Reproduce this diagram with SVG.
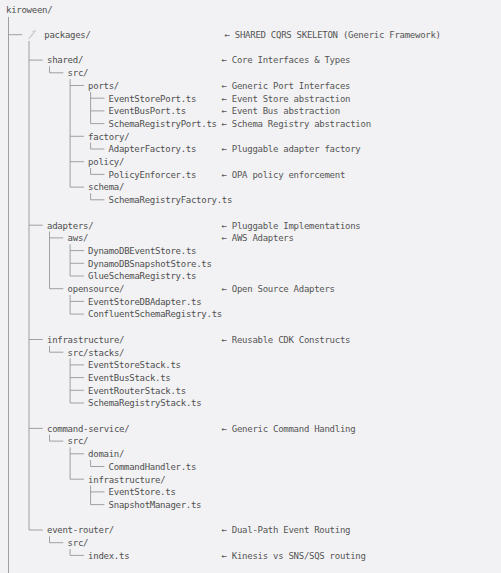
<svg xmlns="http://www.w3.org/2000/svg" width="501" height="573" viewBox="0 0 501 573">
<style>
  .bg { fill: #f2f2f4; }
  text { font-family: "DejaVu Sans Mono", "Liberation Mono", monospace; font-size: 9px; letter-spacing: -0.27px; fill: #4f4f4f; }
  .c { fill: #555555; }
  #connectors path { stroke: #969696; stroke-width: 0.9; fill: none; }
  .icon { stroke: #cfcfcf; stroke-width: 1.4; fill: none; stroke-linecap: round; }
</style>
<rect class="bg" x="0" y="0" width="501" height="573"/>

<g id="connectors">
  <path d="M8.5 17 V573"/>
  <path d="M29 41 V530"/>
  <path d="M49.5 66.4 V72.8 M49.5 231.5 V288.7 M49.5 345.8 V352.2 M49.5 434.7 V441.1 M49.5 536.3 V542.7"/>
  <path d="M70.1 79.1 V187.1 M70.1 244.2 V276 M70.1 295 V314.1 M70.1 358.5 V403 M70.1 447.4 V479.2 M70.1 549 V555.4"/>
  <path d="M90.6 91.8 V123.6 M90.6 142.6 V149 M90.6 168 V174.4 M90.6 193.4 V199.8 M90.6 460.1 V466.5 M90.6 485.5 V504.6"/>
  <path d="M8.5 34.7 H22.3"/>
  <path d="M29 60.1 H42.8 M29 225.2 H42.8 M29 339.5 H42.8 M29 428.4 H42.8 M29 530 H42.8"/>
  <path d="M49.5 72.8 H63.3 M49.5 237.9 H63.3 M49.5 288.7 H63.3 M49.5 352.2 H63.3 M49.5 441.1 H63.3 M49.5 542.7 H63.3"/>
  <path d="M70.1 85.5 H83.9 M70.1 136.3 H83.9 M70.1 161.7 H83.9 M70.1 187.1 H83.9 M70.1 250.6 H83.9 M70.1 263.3 H83.9 M70.1 276 H83.9 M70.1 301.4 H83.9 M70.1 314.1 H83.9 M70.1 364.9 H83.9 M70.1 377.6 H83.9 M70.1 390.3 H83.9 M70.1 403 H83.9 M70.1 453.8 H83.9 M70.1 479.2 H83.9 M70.1 555.4 H83.9"/>
  <path d="M90.6 98.2 H104.4 M90.6 110.9 H104.4 M90.6 123.6 H104.4 M90.6 149 H104.4 M90.6 174.4 H104.4 M90.6 199.8 H104.4 M90.6 466.5 H104.4 M90.6 491.9 H104.4 M90.6 504.6 H104.4"/>
</g>

<g id="root"><text x="6" y="12.6">kiroween/</text></g>

<g id="packages">
  <path class="icon" d="M29 38.5 L34 32.5 M33 31.5 L35.5 31"/>
  <text x="44.3" y="38">packages/</text>
  <text class="c" x="224.5" y="38">← SHARED CQRS SKELETON (Generic Framework)</text>
</g>

<g id="shared">
  <text x="47" y="63.4">shared/</text>
  <text class="c" x="221.5" y="63.4">← Core Interfaces &amp; Types</text>
</g>
<g id="shared-src"><text x="67.6" y="76.1">src/</text></g>
<g id="ports">
  <text x="88.1" y="88.8">ports/</text>
  <text class="c" x="221.5" y="88.8">← Generic Port Interfaces</text>
</g>
<g id="EventStorePort">
  <text x="108.6" y="101.5">EventStorePort.ts</text>
  <text class="c" x="221.5" y="101.5">← Event Store abstraction</text>
</g>
<g id="EventBusPort">
  <text x="108.6" y="114.2">EventBusPort.ts</text>
  <text class="c" x="221.5" y="114.2">← Event Bus abstraction</text>
</g>
<g id="SchemaRegistryPort">
  <text x="108.6" y="126.9">SchemaRegistryPort.ts</text>
  <text class="c" x="221.5" y="126.9">← Schema Registry abstraction</text>
</g>
<g id="factory"><text x="88.1" y="139.6">factory/</text></g>
<g id="AdapterFactory">
  <text x="108.6" y="152.3">AdapterFactory.ts</text>
  <text class="c" x="221.5" y="152.3">← Pluggable adapter factory</text>
</g>
<g id="policy"><text x="88.1" y="165">policy/</text></g>
<g id="PolicyEnforcer">
  <text x="108.6" y="177.7">PolicyEnforcer.ts</text>
  <text class="c" x="221.5" y="177.7">← OPA policy enforcement</text>
</g>
<g id="schema"><text x="88.1" y="190.4">schema/</text></g>
<g id="SchemaRegistryFactory"><text x="108.6" y="203.1">SchemaRegistryFactory.ts</text></g>

<g id="adapters">
  <text x="47" y="228.5">adapters/</text>
  <text class="c" x="221.5" y="228.5">← Pluggable Implementations</text>
</g>
<g id="aws">
  <text x="67.6" y="241.2">aws/</text>
  <text class="c" x="221.5" y="241.2">← AWS Adapters</text>
</g>
<g id="DynamoDBEventStore"><text x="88.1" y="253.9">DynamoDBEventStore.ts</text></g>
<g id="DynamoDBSnapshotStore"><text x="88.1" y="266.6">DynamoDBSnapshotStore.ts</text></g>
<g id="GlueSchemaRegistry"><text x="88.1" y="279.3">GlueSchemaRegistry.ts</text></g>
<g id="opensource">
  <text x="67.6" y="292">opensource/</text>
  <text class="c" x="221.5" y="292">← Open Source Adapters</text>
</g>
<g id="EventStoreDBAdapter"><text x="88.1" y="304.7">EventStoreDBAdapter.ts</text></g>
<g id="ConfluentSchemaRegistry"><text x="88.1" y="317.4">ConfluentSchemaRegistry.ts</text></g>

<g id="infrastructure">
  <text x="47" y="342.8">infrastructure/</text>
  <text class="c" x="221.5" y="342.8">← Reusable CDK Constructs</text>
</g>
<g id="src-stacks"><text x="67.6" y="355.5">src/stacks/</text></g>
<g id="EventStoreStack"><text x="88.1" y="368.2">EventStoreStack.ts</text></g>
<g id="EventBusStack"><text x="88.1" y="380.9">EventBusStack.ts</text></g>
<g id="EventRouterStack"><text x="88.1" y="393.6">EventRouterStack.ts</text></g>
<g id="SchemaRegistryStack"><text x="88.1" y="406.3">SchemaRegistryStack.ts</text></g>

<g id="command-service">
  <text x="47" y="431.7">command-service/</text>
  <text class="c" x="221.5" y="431.7">← Generic Command Handling</text>
</g>
<g id="cs-src"><text x="67.6" y="444.4">src/</text></g>
<g id="domain"><text x="88.1" y="457.1">domain/</text></g>
<g id="CommandHandler"><text x="108.6" y="469.8">CommandHandler.ts</text></g>
<g id="cs-infrastructure"><text x="88.1" y="482.5">infrastructure/</text></g>
<g id="EventStore"><text x="108.6" y="495.2">EventStore.ts</text></g>
<g id="SnapshotManager"><text x="108.6" y="507.9">SnapshotManager.ts</text></g>

<g id="event-router">
  <text x="47" y="533.3">event-router/</text>
  <text class="c" x="221.5" y="533.3">← Dual-Path Event Routing</text>
</g>
<g id="er-src"><text x="67.6" y="546">src/</text></g>
<g id="index">
  <text x="88.1" y="558.7">index.ts</text>
  <text class="c" x="221.5" y="558.7">← Kinesis vs SNS/SQS routing</text>
</g>
</svg>
